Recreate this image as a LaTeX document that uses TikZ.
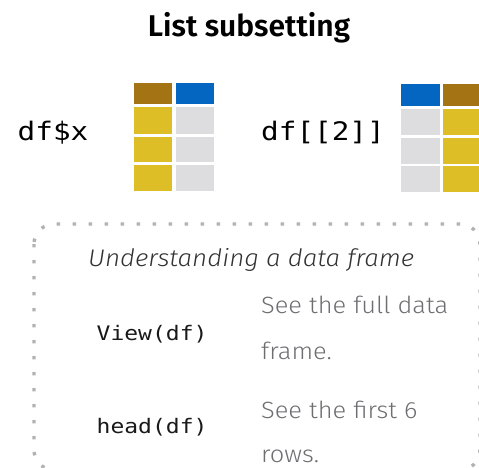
\documentclass[tikz,border=0pt]{standalone}
\usepackage{fontspec}
\setmainfont{Fira Sans}[BoldFont={* SemiBold}]
\newfontfamily\lightfont{Fira Sans}[UprightFont={* Light},ItalicFont={* Light Italic},FakeStretch=1.08]
\newfontfamily\codefont{DejaVu Sans Mono}[FakeStretch=1.15]
\definecolor{cbrown}{RGB}{164,116,20}
\definecolor{cblue}{RGB}{4,102,192}
\definecolor{cyellow}{RGB}{221,190,39}
\definecolor{cgray}{RGB}{221,221,223}
\definecolor{dotgray}{RGB}{178,178,180}
\definecolor{desc}{RGB}{110,110,114}
\definecolor{ital}{RGB}{50,50,52}
\begin{document}
\begin{tikzpicture}[x=1pt,y=-1pt,
  codebig/.style={anchor=base west,inner sep=0pt,font=\codefont\fontsize{25.5}{30}\selectfont,text=black},
  codesmall/.style={anchor=base west,inner sep=0pt,font=\codefont\fontsize{20}{24}\selectfont,text=black!90},
  desctext/.style={anchor=base west,inner sep=0pt,text=desc,font=\lightfont\fontsize{23.5}{28}\selectfont},
  boxline/.style={draw=dotgray,line width=3.4pt,dash pattern=on 3.4pt off 12.6pt,rounded corners=20pt}]
\useasboundingbox (0,0) rectangle (479,468);
\clip (0,0) rectangle (479,468);
% title
\node[anchor=base,inner sep=0pt,font=\bfseries\fontsize{30}{34}\selectfont] (title) at (249,36.7) {List subsetting};
% df$x
\node[codebig] (dfx) at (17.5,140.7) {df\$x};
\fill[cbrown]  (134,83.3) rectangle (172.3,104.3);
\fill[cblue]   (175.7,83.3) rectangle (214,104.3);
\fill[cyellow] (134,107.3) rectangle (172.3,134.3);
\fill[cyellow] (134,137.3) rectangle (172.3,162.3);
\fill[cyellow] (134,165) rectangle (172.3,190.7);
\fill[cgray]   (175.7,107.3) rectangle (214,134.3);
\fill[cgray]   (175.7,137.3) rectangle (214,162.3);
\fill[cgray]   (175.7,165) rectangle (214,190.7);
% df[[2]]
\node[codebig] (dfb) at (261,140.7) {df[[2]]};
\fill[cblue]   (401,84.3) rectangle (440,106);
\fill[cbrown]  (442.7,84.3) rectangle (481,106);
\fill[cgray]   (401,109) rectangle (440,135);
\fill[cgray]   (401,137.7) rectangle (440,163.7);
\fill[cgray]   (401,166.3) rectangle (440,191.7);
\fill[cyellow] (442.7,109) rectangle (481,135);
\fill[cyellow] (442.7,137.7) rectangle (481,163.7);
\fill[cyellow] (442.7,166.3) rectangle (481,191.7);
% box
\draw[boxline] (34,224) rectangle (480,470);
\node[anchor=base west,inner sep=0pt,text=ital,font=\lightfont\itshape\fontsize{24}{28}\selectfont] (head) at (88,266.7) {Understanding a data frame};
\node[codesmall] (view) at (96.5,340) {View(df)};
\node[desctext] (viewd1) at (261,313) {See the full data};
\node[desctext] (viewd2) at (261,359) {frame.};
\node[codesmall] (headdf) at (96.5,433) {head(df)};
\node[desctext] (headd1) at (261,418) {See the first 6};
\node[desctext] (headd2) at (261,462.5) {rows.};
\end{tikzpicture}
\end{document}
